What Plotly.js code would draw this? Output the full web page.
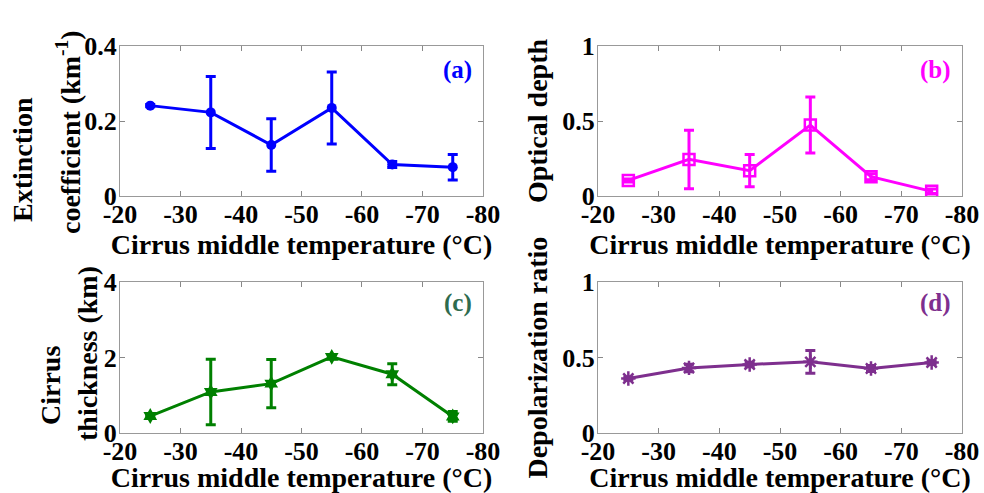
<!DOCTYPE html>
<html>
<head>
<meta charset="utf-8">
<script src="https://cdn.plot.ly/plotly-3.0.1.min.js"></script>
<style>html,body{margin:0;padding:0;background:#fff;}#chart{width:984px;height:493px;}</style>
</head>
<body>
<div id="chart"></div>
<script>
// Data
const temperature = [-25, -35, -45, -55, -65, -75];
const xTickVals = [-20, -30, -40, -50, -60, -70, -80];
const xTickText = ["-20", "-30", "-40", "-50", "-60", "-70", "-80"];

const extinction = [0.241, 0.223, 0.136, 0.235, 0.084, 0.077];
const extinctionErr = [0.003, 0.096, 0.070, 0.096, 0.008, 0.034];

const opticalDepth = [0.104, 0.244, 0.169, 0.473, 0.129, 0.031];
const opticalDepthErr = [0.010, 0.195, 0.107, 0.187, 0.020, 0.015];

const thickness = [0.45, 1.09, 1.31, 2.02, 1.56, 0.44];
const thicknessErr = [0.04, 0.87, 0.64, 0.05, 0.28, 0.13];

const depolarization = [0.362, 0.432, 0.455, 0.472, 0.428, 0.468];
const depolarizationErr = [0.010, 0.025, 0.015, 0.075, 0.020, 0.012];

const xTitle = "Cirrus middle temperature (°C)";
const titleA = ["Extinction", "coefficient (km<sup>-1</sup>)"];
const titleB = "Optical depth";
const titleC = ["Cirrus", "thickness (km)"];
const titleD = "Depolarization ratio";

const FONT = "Liberation Serif, Times New Roman, serif";
const W = 984, H = 493, ML = 120, MR = 22, MT = 46, MB = 60;

function trace(y, err, color, symbol, size, xa, ya, open) {
  return {
    x: temperature, y: y, xaxis: xa, yaxis: ya,
    type: "scatter", mode: "lines+markers",
    line: {color: color, width: 3},
    marker: {symbol: symbol, size: size, color: color, line: {color: color, width: open ? 2.5 : 0}},
    error_y: {type: "data", array: err, visible: true, color: color, thickness: 3, width: 5},
    showlegend: false, hoverinfo: "x+y"
  };
}

const data = [
  trace(extinction, extinctionErr, "#0000FF", "circle", 10, "x", "y", false),
  trace(opticalDepth, opticalDepthErr, "#FF00FF", "square-open", 11, "x2", "y2", true),
  trace(thickness, thicknessErr, "#008000", "hexagram", 12, "x3", "y3", false),
  trace(depolarization, depolarizationErr, "#7E2F8E", "asterisk-open", 12, "x4", "y4", true)
];

function xAxis(domain, anchor) {
  return {
    domain: domain, anchor: anchor, range: [-20, -80],
    tickvals: xTickVals, ticktext: xTickText,
    ticks: "inside", ticklen: 5, tickwidth: 1, tickcolor: "#888",
    ticklabelstandoff: -5,
    showline: true, linecolor: "#999", linewidth: 1, mirror: "ticks",
    showgrid: false, zeroline: false,
    tickfont: {family: FONT, size: 26, color: "#000", weight: "bold"},
    title: {text: xTitle, standoff: 0,
            font: {family: FONT, size: 28, color: "#000", weight: "bold"}}
  };
}
function yAxis(domain, anchor, range, dtick, title, standoff) {
  const ax = {
    domain: domain, anchor: anchor, range: range, dtick: dtick, tick0: 0,
    ticks: "inside", ticklen: 5, tickwidth: 1, tickcolor: "#888",
    ticklabelstandoff: -3,
    showline: true, linecolor: "#999", linewidth: 1, mirror: "ticks",
    showgrid: false, zeroline: false,
    tickfont: {family: FONT, size: 26, color: "#000", weight: "bold"}
  };
  if (title) {
    ax.title = {text: title, standoff: standoff,
                font: {family: FONT, size: 28, color: "#000", weight: "bold"}};
  }
  return ax;
}

// y-title lines placed at page pixel centres, converted to paper coords (plot area)
function yTitleLine(text, px, py) {
  return {text: text, xref: "paper", yref: "paper",
          x: (px - ML) / (W - ML - MR), y: (H - MB - py) / (H - MT - MB),
          xanchor: "center", yanchor: "middle", textangle: -90, showarrow: false,
          font: {family: FONT, size: 28, color: "#000", weight: "bold"}};
}
function panelLabel(text, xr, yr, yv, color) {
  return {text: text, xref: xr, yref: yr, x: 0.975, y: yv, showarrow: false,
          xanchor: "right", yanchor: "middle",
          font: {family: FONT, size: 25, color: color, weight: "bold"}};
}

const xa = [0, 0.4311], xb = [0.5677, 1];
const ytop = [0.6124, 1], ybot = [0, 0.3894];

const layout = {
  width: W, height: H,
  margin: {l: ML, r: MR, t: MT, b: MB},
  paper_bgcolor: "#fff", plot_bgcolor: "#fff",
  font: {family: FONT, color: "#000"},
  xaxis: xAxis(xa, "y"),
  yaxis: yAxis(ytop, "x", [0, 0.4], 0.2, null, 2),
  xaxis2: xAxis(xb, "y2"),
  yaxis2: yAxis(ytop, "x2", [0, 1], 0.5, titleB, 6),
  xaxis3: xAxis(xa, "y3"),
  yaxis3: yAxis(ybot, "x3", [0, 4], 2, null, 2),
  xaxis4: xAxis(xb, "y4"),
  yaxis4: yAxis(ybot, "x4", [0, 1], 0.5, titleD, 6),
  annotations: [
    yTitleLine(titleA[0], 22, 160),
    yTitleLine(titleA[1], 68, 132),
    yTitleLine(titleC[0], 50, 386),
    yTitleLine(titleC[1], 87, 354),
    panelLabel("(a)", "x domain", "y domain", 0.84, "#0000FF"),
    panelLabel("(b)", "x2 domain", "y2 domain", 0.84, "#FF00FF"),
    panelLabel("(c)", "x3 domain", "y3 domain", 0.86, "#2E6B4E"),
    panelLabel("(d)", "x4 domain", "y4 domain", 0.86, "#7E2F8E")
  ]
};

Plotly.newPlot("chart", data, layout, {displayModeBar: false, staticPlot: true});
</script>
</body>
</html>
